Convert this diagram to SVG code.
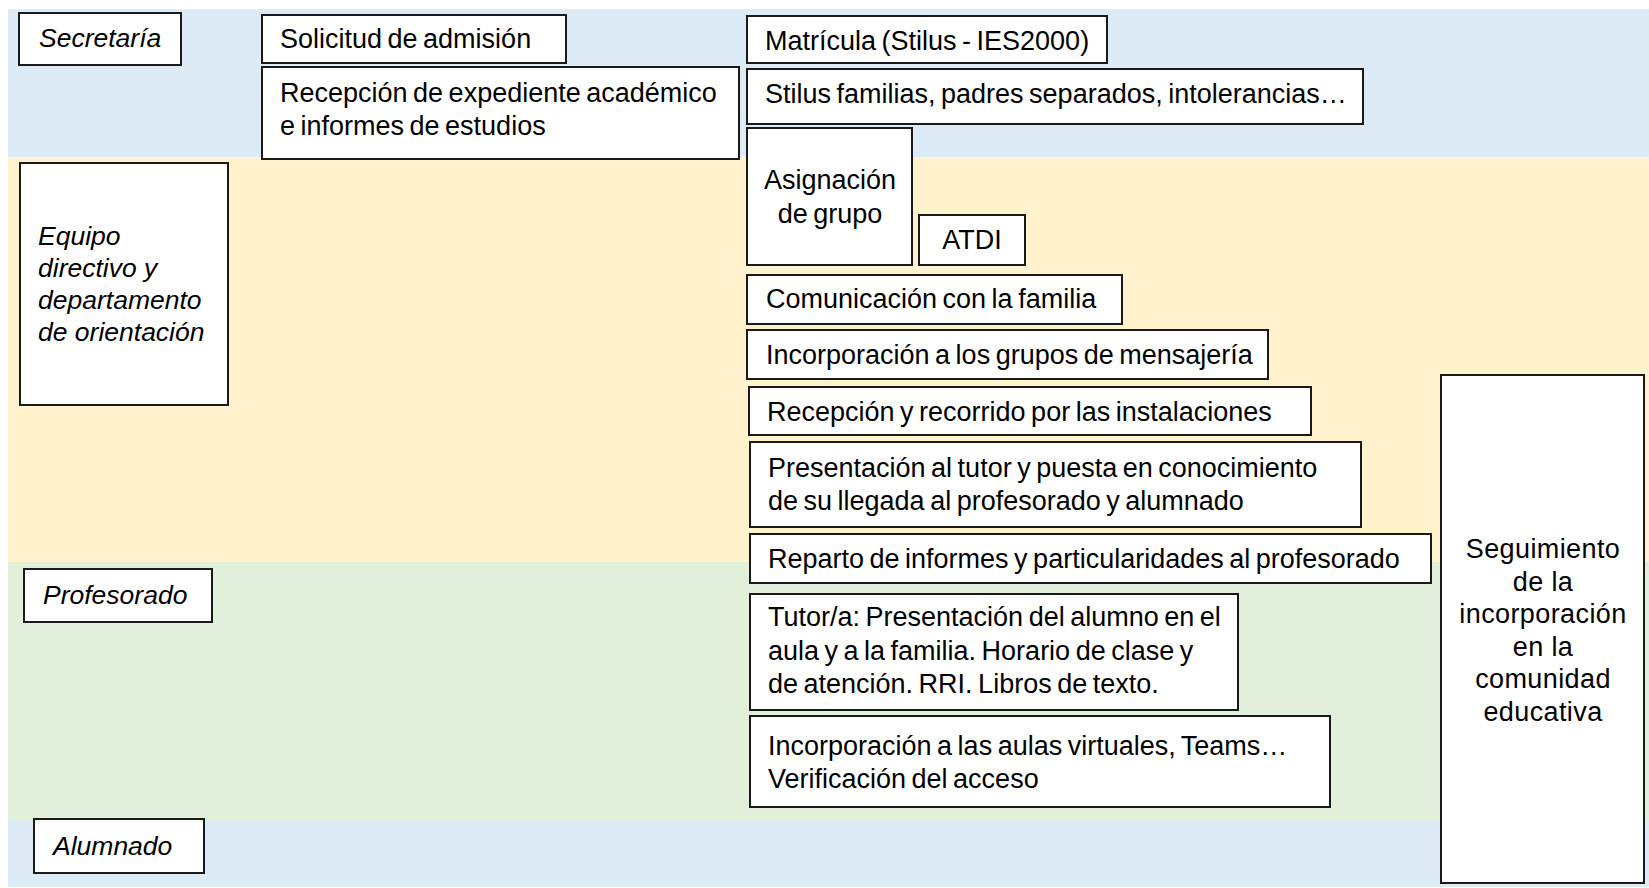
<svg xmlns="http://www.w3.org/2000/svg" width="1649" height="888" viewBox="0 0 1649 888">
<style>
.box{fill:#fff;stroke:#1a1a1a;stroke-width:2}
.t{font-family:"Liberation Sans",Arial,sans-serif;font-size:27px;fill:#000;word-spacing:-2px}
.i{font-family:"Liberation Sans",Arial,sans-serif;font-size:26.5px;font-style:italic;fill:#000}
.c{text-anchor:middle}
.s{letter-spacing:0.4px;word-spacing:0}
</style>
<g id="bands">
<rect x="8" y="9" width="1641" height="148" fill="#DDEBF7"/>
<rect x="8" y="157" width="1641" height="405" fill="#FFF2CC"/>
<rect x="8" y="562" width="1641" height="258" fill="#E2EFDA"/>
<rect x="8" y="820" width="1641" height="67" fill="#DDEBF7"/>
</g>
<g id="connectors"></g>
<g id="lane-secretaria"><rect class="box" x="19" y="13" width="162" height="52"/><text class="i" x="39" y="47">Secretaría</text></g>
<g id="lane-equipo"><rect class="box" x="20" y="163" width="208" height="242"/><text class="i" x="38" y="245">Equipo</text><text class="i" x="38" y="277">directivo y</text><text class="i" x="38" y="309">departamento</text><text class="i" x="38" y="341">de orientación</text></g>
<g id="lane-profesorado"><rect class="box" x="24" y="569" width="188" height="53"/><text class="i" x="43" y="604">Profesorado</text></g>
<g id="lane-alumnado"><rect class="box" x="34" y="819" width="170" height="54"/><text class="i" x="53" y="855">Alumnado</text></g>
<g id="n-solicitud"><rect class="box" x="262" y="15" width="304" height="48"/><text class="t" x="280" y="48">Solicitud de admisión</text></g>
<g id="n-expediente"><rect class="box" x="262" y="67" width="477" height="92"/><text class="t" x="280" y="102">Recepción de expediente académico</text><text class="t" x="280" y="135">e informes de estudios</text></g>
<g id="n-matricula"><rect class="box" x="747" y="16" width="360" height="47"/><text class="t" x="765" y="50">Matrícula (Stilus - IES2000)</text></g>
<g id="n-stilus"><rect class="box" x="747" y="69" width="616" height="55"/><text class="t" x="765" y="103">Stilus familias, padres separados, intolerancias…</text></g>
<g id="n-asignacion"><rect class="box" x="747" y="128" width="165" height="137"/><text class="t c" x="830" y="189">Asignación</text><text class="t c" x="830" y="223">de grupo</text></g>
<g id="n-atdi"><rect class="box" x="919" y="215" width="106" height="50"/><text class="t c" x="972" y="249">ATDI</text></g>
<g id="n-comunicacion"><rect class="box" x="747" y="275" width="375" height="49"/><text class="t" x="766" y="308">Comunicación con la familia</text></g>
<g id="n-mensajeria"><rect class="box" x="747" y="330" width="521" height="49"/><text class="t" x="766" y="364">Incorporación a los grupos de mensajería</text></g>
<g id="n-recorrido"><rect class="box" x="749" y="387" width="562" height="48"/><text class="t" x="767" y="421">Recepción y recorrido por las instalaciones</text></g>
<g id="n-presentacion"><rect class="box" x="750" y="442" width="611" height="85"/><text class="t" x="768" y="477">Presentación al tutor y puesta en conocimiento</text><text class="t" x="768" y="510">de su llegada al profesorado y alumnado</text></g>
<g id="n-reparto"><rect class="box" x="750" y="534" width="681" height="49"/><text class="t" x="768" y="568">Reparto de informes y particularidades al profesorado</text></g>
<g id="n-tutor"><rect class="box" x="750" y="594" width="488" height="116"/><text class="t" x="768" y="626">Tutor/a: Presentación del alumno en el</text><text class="t" x="768" y="659.5">aula y a la familia. Horario de clase y</text><text class="t" x="768" y="693">de atención. RRI. Libros de texto.</text></g>
<g id="n-aulas"><rect class="box" x="750" y="716" width="580" height="91"/><text class="t" x="768" y="755">Incorporación a las aulas virtuales, Teams…</text><text class="t" x="768" y="788">Verificación del acceso</text></g>
<g id="n-seguimiento"><rect class="box" x="1441" y="375" width="203" height="508"/><text class="t c s" x="1543" y="558">Seguimiento</text><text class="t c s" x="1543" y="590.5">de la</text><text class="t c s" x="1543" y="623">incorporación</text><text class="t c s" x="1543" y="655.5">en la</text><text class="t c s" x="1543" y="688">comunidad</text><text class="t c s" x="1543" y="720.5">educativa</text></g>
</svg>
